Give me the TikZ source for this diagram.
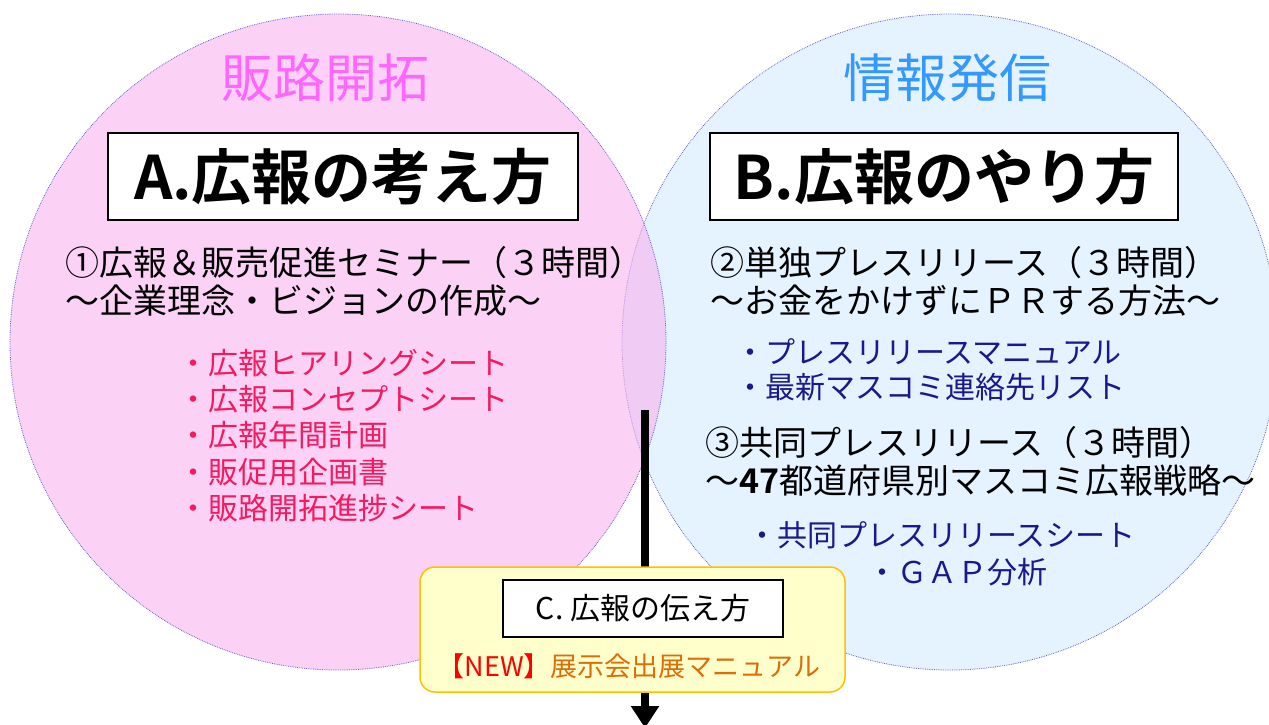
\documentclass[tikz,border=0pt]{standalone}
\usepackage{fontspec}
\setmainfont{Noto Sans CJK JP}[BoldFont={Noto Sans CJK JP Bold}]
\usetikzlibrary{arrows.meta,positioning}
\definecolor{pinkfill}{RGB}{248,178,238}
\definecolor{bluefill}{RGB}{229,242,255}
\definecolor{ringline}{RGB}{100,100,200}
\definecolor{pinktitle}{RGB}{255,102,255}
\definecolor{bluetitle}{RGB}{51,153,255}
\definecolor{pinkitem}{RGB}{245,25,95}
\definecolor{blueitem}{RGB}{25,25,140}
\definecolor{paleyellow}{RGB}{255,255,204}
\definecolor{gold}{RGB}{255,192,0}
\definecolor{newred}{RGB}{255,0,0}
\definecolor{showorange}{RGB}{220,110,10}
\tikzset{
    ringpink/.style={
        circle,
        draw=ringline,
        densely dotted,
        line width=0.8pt,
        fill=pinkfill,
        fill opacity=0.6,
        minimum size=656pt,
        inner sep=0pt,
    },
    ringblue/.style={
        circle,
        draw=ringline,
        densely dotted,
        line width=0.8pt,
        fill=bluefill,
        minimum size=656pt,
        inner sep=0pt,
    },
    titlepink/.style={
        text=pinktitle,
        font=\fontsize{52}{60}\selectfont,
        inner sep=0pt,
    },
    titleblue/.style={
        text=bluetitle,
        font=\fontsize{52}{60}\selectfont,
        inner sep=0pt,
    },
    headbox/.style={
        rectangle,
        draw=black,
        line width=1.2pt,
        fill=white,
        minimum width=470pt,
        minimum height=87pt,
        font=\fontsize{60}{72}\selectfont\bfseries,
    },
    smallbox/.style={
        rectangle,
        draw=black,
        line width=1.2pt,
        fill=white,
        minimum width=280pt,
        minimum height=57pt,
        font=\fontsize{30}{36}\selectfont,
    },
    lineblack/.style={
        anchor=west,
        align=left,
        inner sep=0pt,
        font=\fontsize{34}{38}\selectfont,
    },
    listpink/.style={
        anchor=west,
        align=left,
        inner sep=0pt,
        text=pinkitem,
        font=\fontsize{30}{36.25}\selectfont,
    },
    listblue/.style={
        anchor=west,
        align=left,
        inner sep=0pt,
        text=blueitem,
        font=\fontsize{30}{35}\selectfont,
    },
    newsbox/.style={
        rectangle,
        rounded corners=15pt,
        draw=gold,
        line width=1.5pt,
        fill=paleyellow,
        minimum width=425pt,
        minimum height=125pt,
    },
    flow/.style={
        line width=8.5pt,
        -{Triangle[width=27pt,length=22pt]},
    }
}

\begin{document}
\begin{tikzpicture}[x=1pt,y=-1pt]
    \useasboundingbox (0,0) rectangle (1269,724);
    \clip (0,0) rectangle (1269,724);
    \node [ringblue] (ringB) at (950,342) {};
    \node [ringpink] (ringA) at (338,342) {};
    \node [titlepink] (hanro) at (325,78) {販路開拓};
    \node [titleblue] (joho) at (947,78) {情報発信};
    \node [headbox] (boxA) at (343,176.5) {A.広報の考え方};
    \node [headbox,minimum width=468pt] (boxB) at (944,176.5) {B.広報のやり方};
    \node [lineblack] (sem1) at (65,281) {①広報＆販売促進セミナー（３時間）\\～企業理念・ビジョンの作成～};
    \node [listpink] (toolsA) at (178,435.5) {・広報ヒアリングシート\\・広報コンセプトシート\\・広報年間計画\\・販促用企画書\\・販路開拓進捗シート};
    \node [lineblack] (sem2) at (710,281) {②単独プレスリリース（３時間）\\～お金をかけずにＰＲする方法～};
    \node [listblue] (toolsB) at (735,369.5) {・プレスリリースマニュアル\\・最新マスコミ連絡先リスト};
    \node [lineblack] (sem3) at (705,461) {③共同プレスリリース（３時間）\\～\textbf{47}都道府県別マスコミ広報戦略～};
    \node [listblue] (toolsC) at (747,535) {・共同プレスリリースシート};
    \node [listblue] (toolsD) at (867,572) {・ＧＡＰ分析};
    \coordinate (flowtop) at (645,410);
    \coordinate (flowend) at (645,728);
    \draw [flow] (flowtop) -- (flowend);
    \node [newsbox] (showbox) at (632.5,629.5) {};
    \node [smallbox] (boxC) at (643,608.5) {C. 広報の伝え方};
    \node [text=showorange,inner sep=0pt,font=\fontsize{27}{32}\selectfont] (newitem) at (629,666) {\textcolor{newred}{【NEW】}展示会出展マニュアル};
\end{tikzpicture}
\end{document}
